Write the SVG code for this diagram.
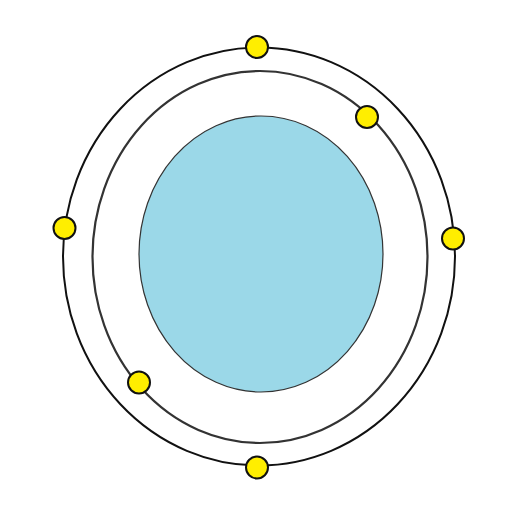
<svg xmlns="http://www.w3.org/2000/svg" width="512" height="512" viewBox="0 0 512 512">
<style>
.ring{fill:none;stroke:#111;stroke-width:2}
.ring2{fill:none;stroke:#333;stroke-width:2.2}
.core{fill:#9bd8e8;stroke:#333;stroke-width:1.2}
.e{fill:#ffee00;stroke:#111;stroke-width:2}
</style>
<rect width="512" height="512" fill="#fff"/>
<g id="orbits">
<ellipse id="outer" class="ring" cx="259" cy="256.5" rx="196" ry="209"/>
<ellipse id="inner" class="ring2" cx="260" cy="257" rx="167.5" ry="186"/>
</g>
<g id="nucleus"><ellipse class="core" cx="261" cy="254" rx="122" ry="138"/></g>
<g id="electrons">
<circle class="e" cx="257" cy="47" r="11"/>
<circle class="e" cx="367" cy="117" r="11"/>
<circle class="e" cx="64.5" cy="228" r="11"/>
<circle class="e" cx="453" cy="238.5" r="11"/>
<circle class="e" cx="139" cy="382.5" r="11"/>
<circle class="e" cx="257" cy="467.5" r="11"/>
</g>
</svg>
